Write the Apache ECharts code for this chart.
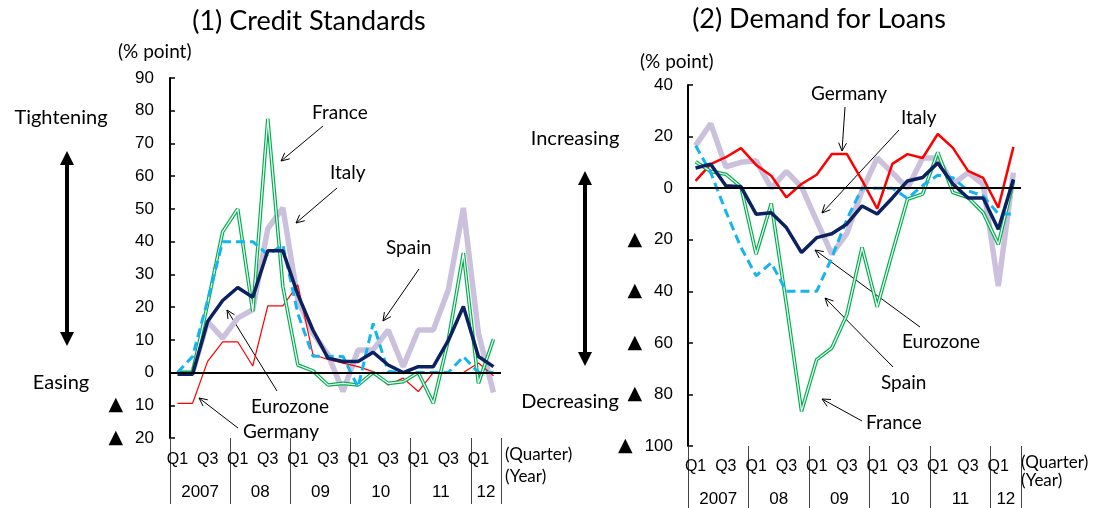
<!DOCTYPE html>
<html>
<head>
<meta charset="utf-8">
<script src="https://cdn.jsdelivr.net/npm/echarts@6/dist/echarts.min.js"></script>
<style>
html, body { margin: 0; padding: 0; background: #fff; }
#main { width: 1099px; height: 508px; }
</style>
</head>
<body>
<div id="main"></div>
<script>
// 2007Q1 .. 2012Q2
var quarters = [];
for (var y = 2007; y <= 2012; y++) {
	for (var q = 1; q <= 4; q++) {
		if (y == 2012 && q > 2) break;
		quarters.push(y + 'Q' + q);
	}
}
var quarterTicks = [ 'Q1', '', 'Q3', '' ];
var years = [ '2007', '08', '09', '10', '11', '12' ];
var yearPos = [ 2, 6, 10, 14, 18, 21 ];
var yearBreaks = [ 0, 4, 8, 12, 16, 20, 22 ];

// (1) Credit Standards
var csGermany = [ -9.4, -9.4, 3.4, 9.4, 9.4, 2, 20.4, 20.4, 26.8, 5.5, 4, 2.9, 1.8, 0.3, -3.8, -1.7, -5.8, 0, 0, 0, 2.9, -1 ];
var csFrance = [ 0, 0, 21, 43, 50, 18.7, 77.5, 26.3, 2.3, 0.5, -3.8, -3.3, -3.8, 0, -3.3, -2.8, 0, -9.4, 10, 36.5, -3.3, 10.2 ];
var csItaly = [ 0, 0, 15.6, 10.5, 16.6, 19.2, 44, 50.3, 22.2, 12, 5.5, -5.8, 6.9, 6.9, 13, 1.8, 13, 13, 25.3, 50.3, 12, -6.1 ];
var csSpain = [ 0, 4.9, 22, 40, 40, 40, 36, 39, 18, 5, 5, 4.9, -4.5, 15, 0.3, 0, 0, 0, 0, 4.9, 0, 0 ];
var csEuro = [ -0.5, -0.5, 15.6, 22, 26, 23, 37.2, 37.2, 23.8, 13, 4.4, 3.4, 3.4, 6.2, 2.3, 0, 1.8, 1.8, 9.8, 20.2, 4.9, 1.8 ];

// (2) Demand for Loans
var dlGermany = [ 2.8, 9.3, 12, 15.5, 9, 4.8, -3.6, 1.6, 5.2, 13.2, 13.2, 3, -8, 9.4, 13.2, 11.7, 21, 15.6, 6.7, 4, -7.6, 16 ];
var dlFrance = [ 10.2, 6.5, 5.4, 0.5, -25.6, -6, -45, -86.5, -66.5, -62, -49, -23, -46, -25, -4.3, -2.3, 13.9, -1.7, -3.6, -9.5, -21.8, 2.8 ];
var dlItaly = [ 16.5, 25, 8.3, 10, 10.6, 0, 6.5, 0.5, -12.7, -25.6, -17.5, -1, 11.7, 6, 0, 11.7, 11.7, 1.5, 6, 1.5, -38, 6 ];
var dlSpain = [ 16.5, 6, -9, -23, -34, -29, -40, -40, -40, -27, -12, 0, 0, 0, -4, 1, 5, 4, -1, -3, -10, -10 ];
var dlEuro = [ 7.8, 9.3, 0.9, 0.5, -10.1, -9.5, -15.3, -25, -19.2, -17.7, -13.9, -6.9, -10, -3.8, 2.8, 4.1, 9.8, 1.6, -3.8, -3.8, -15.9, 3.4 ];

var cGermany = '#ff0000', cFrance = '#00b050', cItaly = '#ccc1dc', cSpain = '#14b4ee', cEuro = '#0c2160';
var txtFont = 'Lato, "Open Sans", sans-serif';
var numFont = '"Liberation Sans", Arial, sans-serif';

// negative values are written with a triangle
function yLabel(v) {
	return v < 0 ? '{t|\u25b2}{n|' + (-v) + '}' : '{n|' + v + '}';
}

function makeX(grid, margin) {
	return [ {
		type : 'category',
		gridIndex : grid,
		position : 'bottom',
		data : quarters,
		boundaryGap : true,
		axisLine : { show : false },
		axisTick : { show : false },
		axisLabel : {
			interval : 0,
			margin : margin,
			fontSize : 16,
			fontFamily : '"Liberation Sans Narrow", ' + numFont,
			color : '#000',
			formatter : function(v, i) {
				return quarterTicks[i % 4];
			}
		}
	}, {
		type : 'value',
		gridIndex : grid,
		position : 'bottom',
		min : 0,
		max : 22,
		axisLine : { show : false },
		splitLine : { show : false },
		axisTick : {
			show : true,
			customValues : yearBreaks,
			length : 66,
			lineStyle : { color : '#444', width : 1 }
		},
		axisLabel : {
			customValues : yearPos,
			margin : margin + 32,
			fontSize : 17,
			fontFamily : numFont,
			color : '#000',
			formatter : function(v) {
				return years[yearPos.indexOf(v)];
			}
		}
	} ];
}

function makeY(grid, min, max, interval, margin) {
	return {
		type : 'value',
		gridIndex : grid,
		min : min,
		max : max,
		interval : interval,
		axisLine : { show : true, lineStyle : { color : '#000', width : 2 } },
		axisTick : { show : true, inside : true, length : 5, lineStyle : { color : '#000', width : 1.5 } },
		splitLine : { show : false },
		axisLabel : {
			margin : margin,
			color : '#000',
			formatter : yLabel,
			rich : {
				t : { fontSize : 19, fontFamily : '"DejaVu Sans"', color : '#000', padding : [ 0, 12, 0, 0 ] },
				n : { fontSize : 17, fontFamily : numFont, color : '#000' }
			}
		}
	};
}

function line(name, data, xi, yi, color, width, extra) {
	var s = {
		name : name,
		type : 'line',
		xAxisIndex : xi,
		yAxisIndex : yi,
		data : data,
		symbol : 'none',
		silent : true,
		lineStyle : { color : color, width : width },
		z : 2
	};
	if (extra) {
		for (var k in extra) s.lineStyle[k] = extra[k];
	}
	return s;
}

function panelSeries(xi, yi, g, f, it, sp, eu, redW) {
	var list = [
		line('Italy', it, xi, yi, cItaly, 5.5),
		line('Germany', g, xi, yi, cGermany, redW),
		line('France', f, xi, yi, cFrance, 3.6),
		line('France_in', f, xi, yi, '#fff', 1.2),
		line('Spain', sp, xi, yi, cSpain, 3, { type : [ 9, 5 ] }),
		line('Eurozone', eu, xi, yi, cEuro, 3.5)
	];
	list[0].markLine = {
		silent : true,
		symbol : 'none',
		label : { show : false },
		lineStyle : { color : '#000', width : 2, type : 'solid' },
		data : [ { yAxis : 0 } ]
	};
	return list;
}

// arrows and texts
var graphics = [];
function txt(x, y, s, size, align) {
	graphics.push({
		type : 'text',
		x : x,
		y : y,
		style : {
			text : s,
			fontSize : size,
			fontFamily : txtFont,
			fill : '#000',
			textAlign : align || 'left',
			textVerticalAlign : 'middle'
		}
	});
}
function pointer(x1, y1, x2, y2) {
	graphics.push({
		type : 'line',
		shape : { x1 : x1, y1 : y1, x2 : x2, y2 : y2 },
		style : { stroke : '#000', lineWidth : 1 }
	});
	var a = Math.atan2(y1 - y2, x1 - x2), L = 9, h = 0.45;
	graphics.push({
		type : 'polyline',
		shape : { points : [ [ x2 + L * Math.cos(a + h), y2 + L * Math.sin(a + h) ], [ x2, y2 ],
				[ x2 + L * Math.cos(a - h), y2 + L * Math.sin(a - h) ] ] },
		style : { stroke : '#000', fill : null, lineWidth : 1 }
	});
}
function bigArrow(x, y1, y2) {
	graphics.push({
		type : 'line',
		shape : { x1 : x, y1 : y1 + 10, x2 : x, y2 : y2 - 10 },
		style : { stroke : '#000', lineWidth : 4 }
	});
	graphics.push({
		type : 'polygon',
		shape : { points : [ [ x, y1 ], [ x - 7, y1 + 14 ], [ x + 7, y1 + 14 ] ] },
		style : { fill : '#000' }
	});
	graphics.push({
		type : 'polygon',
		shape : { points : [ [ x, y2 ], [ x - 7, y2 - 14 ], [ x + 7, y2 - 14 ] ] },
		style : { fill : '#000' }
	});
}

txt(309, 21, '(1) Credit Standards', 27, 'center');
txt(819, 19, '(2) Demand for Loans', 27, 'center');
txt(118, 52, '(% point)', 19);
txt(640, 62, '(% point)', 19);
txt(61, 118, 'Tightening', 20, 'center');
txt(61, 383, 'Easing', 20, 'center');
txt(575, 139, 'Increasing', 20, 'center');
txt(570, 402, 'Decreasing', 20, 'center');
bigArrow(67, 151, 346);
bigArrow(585, 171, 366);
txt(505, 455, '(Quarter)', 17);
txt(505, 477, '(Year)', 17);
txt(1021, 463, '(Quarter)', 17);
txt(1021, 481, '(Year)', 17);

txt(312, 113, 'France', 19);
pointer(323, 126, 281, 161);
txt(330, 173, 'Italy', 19);
pointer(337, 188, 296, 223);
txt(386, 248, 'Spain', 19);
pointer(419, 269, 383, 321);
txt(251, 407, 'Eurozone', 19);
pointer(277, 391, 227, 310);
txt(243, 432, 'Germany', 19);
pointer(238, 428, 199, 398);

txt(811, 94, 'Germany', 19);
pointer(845, 107, 842, 151);
txt(901, 118, 'Italy', 19);
pointer(899, 130, 822, 213);
txt(902, 342, 'Eurozone', 19);
pointer(920, 327, 815, 250);
txt(881, 383, 'Spain', 19);
pointer(893, 367, 825, 298);
txt(866, 423, 'France', 19);
pointer(862, 421, 822, 399);

var myChart = echarts.init(document.getElementById('main'));
var option = {
	animation : false,
	backgroundColor : '#fff',
	grid : [ { left : 170, right : 598, top : 78, bottom : 70 },
			{ left : 688, right : 78, top : 85, bottom : 62 } ],
	xAxis : makeX(0, 14).concat(makeX(1, 13)),
	yAxis : [ makeY(0, -20, 90, 10, 16), makeY(1, -100, 40, 20, 15) ],
	series : panelSeries(0, 0, csGermany, csFrance, csItaly, csSpain, csEuro, 1.2).concat(
			panelSeries(2, 1, dlGermany, dlFrance, dlItaly, dlSpain, dlEuro, 2.5)),
	graphic : graphics
};
myChart.setOption(option);
</script>
</body>
</html>
